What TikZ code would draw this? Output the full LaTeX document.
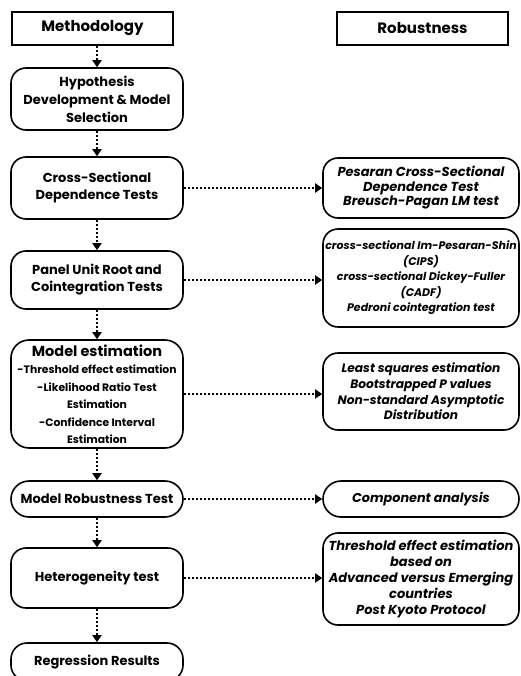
\documentclass[tikz,border=0pt]{standalone}
\usepackage{fontspec}
\setmainfont{Poppins}
\usetikzlibrary{arrows.meta}
\begin{document}
\begin{tikzpicture}[x=1pt,y=-1pt,
  box/.style={draw=black, line width=1.6pt, fill=white, rounded corners=15pt, align=center,
    inner sep=0pt, font=\bfseries\fontsize{13}{17}\selectfont},
  hbox/.style={draw=black, line width=1.6pt, fill=white, align=center, inner sep=0pt,
    font=\bfseries\fontsize{15}{17}\selectfont},
  rbox/.style={draw=black, line width=1.6pt, fill=white, rounded corners=15pt, align=center,
    inner sep=0pt, minimum width=196pt, font=\bfseries\itshape\fontsize{12.5}{15.5}\selectfont},
  link/.style={line width=2pt, dash pattern=on 1.8pt off 2.2pt,
    -{Triangle[width=9pt,length=7pt]}}
]
\clip (0,0) rectangle (521,676);
\useasboundingbox (0,0) rectangle (521,676);
\fill[white] (0,0) rectangle (521,676);

\node[hbox, minimum width=161pt, minimum height=33pt] (meth) at (92.5,28.5) {Methodology};
\node[hbox, minimum width=171pt, minimum height=33pt] (rob) at (422.5,28.5) {Robustness};

\node[box, minimum width=172pt, minimum height=62pt, font=\bfseries\fontsize{13}{18}\selectfont] (hyp) at (97,99) {Hypothesis\\Development \& Model\\Selection};
\node[box, minimum width=172pt, minimum height=62pt] (csd) at (97,188) {Cross-Sectional\\Dependence Tests};
\node[box, minimum width=172pt, minimum height=58pt] (pur) at (97,280) {Panel Unit Root and\\Cointegration Tests};
\node[box, minimum width=172pt, minimum height=108pt, rounded corners=18pt,
  font=\bfseries\fontsize{10.8}{17.5}\selectfont] (est) at (97,394)
  {{\fontsize{14.5}{17.5}\selectfont Model estimation}\\-Threshold effect estimation\\-Likelihood Ratio Test\\Estimation\\-Confidence Interval\\Estimation};
\node[box, minimum width=172pt, minimum height=36pt, rounded corners=18pt] (mrt) at (97,499) {Model Robustness Test};
\node[box, minimum width=172pt, minimum height=60pt] (het) at (97,578) {Heterogeneity test};
\node[box, minimum width=172pt, minimum height=38pt, rounded corners=16pt] (reg) at (97,662) {Regression Results};

\node[rbox, minimum height=60pt, font=\bfseries\itshape\fontsize{13}{14.5}\selectfont] (r1) at (421,188) {Pesaran Cross-Sectional\\Dependence Test\\Breusch-Pagan LM test};
\node[rbox, minimum height=98pt, font=\bfseries\itshape\fontsize{11}{15.5}\selectfont] (r2) at (421,278) {cross-sectional Im-Pesaran-Shin\\(CIPS)\\cross-sectional Dickey-Fuller\\(CADF)\\Pedroni cointegration test};
\node[rbox, minimum height=77pt, font=\bfseries\itshape\fontsize{12.2}{15.7}\selectfont] (r3) at (421,391.5) {Least squares estimation\\Bootstrapped P values\\Non-standard Asymptotic\\Distribution};
\node[rbox, minimum height=36pt, rounded corners=18pt, font=\bfseries\itshape\fontsize{12.8}{15}\selectfont] (r4) at (421,499) {Component analysis};
\node[rbox, minimum height=92pt, font=\bfseries\itshape\fontsize{13}{16}\selectfont] (r5) at (421,579) {Threshold effect estimation\\based on\\Advanced versus Emerging\\countries\\Post Kyoto Protocol};

\draw[link] (meth.south -| hyp.north) -- (hyp.north);
\draw[link] (hyp) -- (csd);
\draw[link] (csd) -- (pur);
\draw[link] (pur) -- (est);
\draw[link] (est) -- (mrt);
\draw[link] (mrt) -- (het);
\draw[link] (het) -- (reg);

\draw[link] (csd.east) -- (csd.east -| r1.west);
\draw[link] (pur.east) -- (pur.east -| r2.west);
\draw[link] (est.east) -- (est.east -| r3.west);
\draw[link] (mrt.east) -- (mrt.east -| r4.west);
\draw[link] (het.east) -- (het.east -| r5.west);
\end{tikzpicture}
\end{document}
